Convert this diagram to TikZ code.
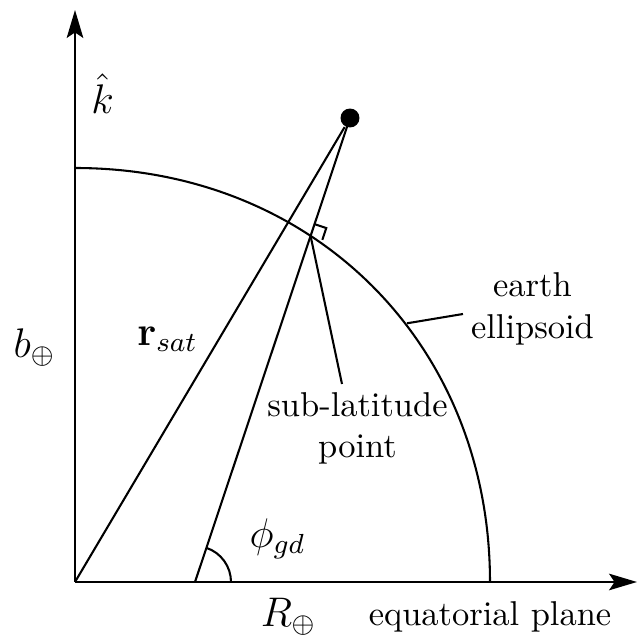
\documentclass[tikz,border=0pt]{standalone}
\usetikzlibrary{arrows.meta,calc,intersections}
\begin{document}
\begin{tikzpicture}[x=0.29pt,y=0.29pt,
  line width=0.6pt,
  axis/.style={-{Stealth[length=8.1pt,width=4.8pt,inset=1.6pt]}},
  lbl/.style={inner sep=0pt,align=center},
  mlbl/.style={inner sep=0pt,font=\large},
  satdot/.style={circle,fill=black,inner sep=0pt,minimum size=5.5pt}]
\useasboundingbox (0,0) rectangle (637,635);
% key points
\coordinate (O) at (75,53);
\coordinate (Ytip) at (75,625);
\coordinate (Xtip) at (637,53);
\coordinate (Top) at (75,467);
\coordinate (Right) at (490,53);
\coordinate (G) at (195,53);
\node[satdot] (sat) at (350,517) {};
% axes
\draw[axis] (O) -- (Ytip);
\draw[axis] (O) -- (Xtip);
% ellipsoid
\draw[name path=ell] (Top) .. controls (313.6,467) and (490,291) .. (Right);
% lines to satellite
\draw (O) -- (sat);
\draw[name path=geo] (G) -- (sat.center);
\path[name intersections={of=ell and geo, by=F}];
% right-angle mark
\coordinate (RA) at ($(F)!3.6pt!(sat.center)$);
\coordinate (RB) at ($(F)!3.6pt!-90:(sat.center)$);
\draw (RA) -- ($(RA)+(RB)-(F)$) -- (RB);
% angle
\draw ([shift={(0:36)}]G) arc[start angle=0,end angle=71.53,radius=36];
% labels
\node[mlbl] (k) at (102.5,541) {$\hat{k}$};
\node[mlbl] (b) at (34.5,287.5) {$b_{\oplus}$};
\node[mlbl] (r) at (167.5,296) {$\mathbf{r}_{sat}$};
\node[lbl] (earth) at (532.5,326) {earth\\ellipsoid};
\node[lbl] (sub) at (357.5,206.5) {sub-latitude\\point};
\node[mlbl] (phi) at (277.5,96.5) {$\phi_{gd}$};
\node[mlbl] (R) at (288.5,18.5) {$R_{\oplus}$};
\node[lbl] (eq) at (490,18.5) {equatorial plane};
% leaders
\coordinate (E1) at (407,311.7);
\coordinate (E2) at (463,321);
\draw (E1) -- (E2);
\coordinate (L1) at (342,251);
\draw (F) -- (L1);
\end{tikzpicture}
\end{document}
